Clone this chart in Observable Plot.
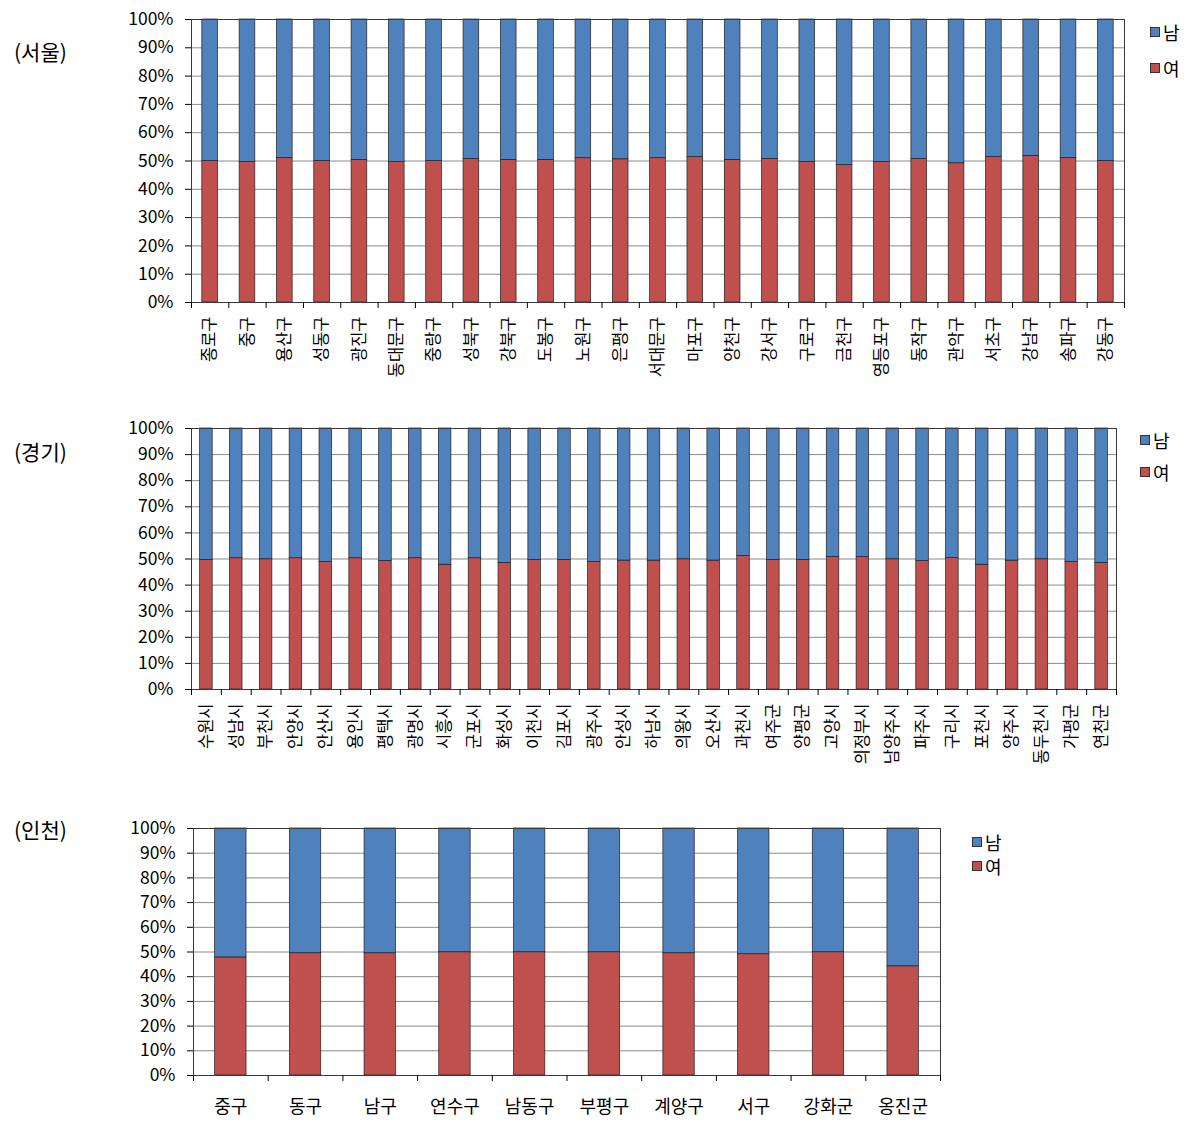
<!DOCTYPE html>
<html><head><meta charset="utf-8">
<script src="https://cdn.jsdelivr.net/npm/d3@7"></script>
<script src="https://cdn.jsdelivr.net/npm/@observablehq/plot@0.6"></script>
<style>
body{margin:0;background:#fff;font-family:"Noto Sans CJK KR","Noto Sans",sans-serif;}
#root{position:relative;width:1195px;height:1126px;overflow:hidden;background:#fff;}
.abs{position:absolute;}
.title{font-size:21px;line-height:24px;color:#000;white-space:nowrap;}
.leg{font-size:18px;line-height:20px;color:#000;display:flex;align-items:center;white-space:nowrap;}
.sw{width:10px;height:10px;border:1px solid #333;margin-right:3px;box-sizing:border-box;}
</style></head>
<body><div id="root"></div>
<script>
const yTicks = [0,10,20,30,40,50,60,70,80,90,100];
const sexes = ["남","여"];
const sexColors = ["#4F81BD","#C0504D"];

const seoulCats = ["종로구","중구","용산구","성동구","광진구","동대문구","중랑구","성북구","강북구","도봉구","노원구","은평구","서대문구","마포구","양천구","강서구","구로구","금천구","영등포구","동작구","관악구","서초구","강남구","송파구","강동구"];
const seoulFemale = [50.0,49.6,51.0,50.0,50.4,49.6,50.0,50.7,50.4,50.4,51.0,50.6,51.0,51.4,50.4,50.7,49.6,48.6,49.6,50.7,49.2,51.4,51.8,51.0,50.0];
const seoulMale   = [50.0,50.4,49.0,50.0,49.6,50.4,50.0,49.3,49.6,49.6,49.0,49.4,49.0,48.6,49.6,49.3,50.4,51.4,50.4,49.3,50.8,48.6,48.2,49.0,50.0];

const gyeonggiCats = ["수원시","성남시","부천시","안양시","안산시","용인시","평택시","광명시","시흥시","군포시","화성시","이천시","김포시","광주시","안성시","하남시","의왕시","오산시","과천시","여주군","양평군","고양시","의정부시","남양주시","파주시","구리시","포천시","양주시","동두천시","가평군","연천군"];
const gyeonggiFemale = [49.6,50.3,49.9,50.3,48.8,50.3,49.2,50.3,47.8,50.3,48.5,49.6,49.6,48.8,49.4,49.4,49.9,49.4,51.2,49.6,49.6,50.8,50.8,49.9,49.2,50.4,47.8,49.4,49.9,48.8,48.5];
const gyeonggiMale   = [50.4,49.7,50.1,49.7,51.2,49.7,50.8,49.7,52.2,49.7,51.5,50.4,50.4,51.2,50.6,50.6,50.1,50.6,48.8,50.4,50.4,49.2,49.2,50.1,50.8,49.6,52.2,50.6,50.1,51.2,51.5];

const incheonCats = ["중구","동구","남구","연수구","남동구","부평구","계양구","서구","강화군","옹진군"];
const incheonFemale = [47.8,49.5,49.5,49.9,49.9,49.9,49.5,49.1,49.9,44.2];
const incheonMale   = [52.2,50.5,50.5,50.1,50.1,50.1,50.5,50.9,50.1,55.8];

const root = document.getElementById("root");

function makePanel(cfg) {
  const {cats, female, male, top, width, height, mt, mb, ml, mr, rotate, xPad, xFont, title, titleTop, legX, legY} = cfg;
  const rows = cats.flatMap((c, i) => [
    {cat: c, sex: "여", v: female[i]},
    {cat: c, sex: "남", v: male[i]}
  ]);
  const step = (width - ml - mr) / cats.length;
  const chart = Plot.plot({
    width, height,
    marginTop: mt, marginBottom: mb, marginLeft: ml, marginRight: mr,
    style: {fontFamily: '"Noto Sans CJK KR", sans-serif', fontSize: "17px", color: "#000", background: "transparent", overflow: "visible"},
    x: {domain: cats, paddingInner: 0.58, paddingOuter: 0.29, round: false, axis: null, label: null},
    y: {domain: [0, 100], axis: null, label: null},
    color: {domain: sexes, range: sexColors},
    marks: [
      Plot.ruleY(yTicks, {y: d => d, stroke: "#8a8a8a", strokeWidth: 1}),
      Plot.barY(rows, Plot.stackY({x: "cat", y: "v", fill: "sex", stroke: "#1e1e1e", strokeWidth: 0.7})),
      Plot.frame({stroke: "#3a3a3a", strokeWidth: 1}),
      Plot.axisY({ticks: yTicks, tickFormat: d => d + "%", tickSize: 6, tickPadding: 12, fontSize: 17.5, label: null, stroke: "#000"}),
      Plot.axisX({tickSize: 0, tickRotate: rotate, tickPadding: xPad, fontSize: xFont, label: null}),
      Plot.ruleX(cats, {x: d => d, y1: 0, y2: 0, insetBottom: -6, dx: -step / 2, stroke: "#000"}),
      Plot.ruleX([cats[cats.length - 1]], {x: d => d, y1: 0, y2: 0, insetBottom: -6, dx: step / 2, stroke: "#000"})
    ]
  });
  chart.style.position = "absolute";
  chart.style.left = "0px";
  chart.style.top = top + "px";
  root.appendChild(chart);

  const t = document.createElement("div");
  t.className = "abs title";
  t.textContent = title;
  t.style.left = "14px";
  t.style.top = titleTop + "px";
  root.appendChild(t);

  sexes.forEach((s, i) => {
    const item = document.createElement("div");
    item.className = "abs leg";
    item.style.left = legX + "px";
    item.style.top = (legY[i] - 10) + "px";
    const sw = document.createElement("div");
    sw.className = "sw";
    sw.style.background = sexColors[i];
    const tx = document.createElement("span");
    tx.textContent = s;
    item.appendChild(sw);
    item.appendChild(tx);
    root.appendChild(item);
  });
}

makePanel({cats: seoulCats, female: seoulFemale, male: seoulMale, top: 0, width: 1140, height: 385,
  mt: 19, mb: 83, ml: 191, mr: 16, rotate: -90, xPad: 14, xFont: 16.5, title: "(서울)", titleTop: 39,
  legX: 1150, legY: [32, 68]});
makePanel({cats: gyeonggiCats, female: gyeonggiFemale, male: gyeonggiMale, top: 410, width: 1130, height: 370,
  mt: 18, mb: 91, ml: 191, mr: 14, rotate: -90, xPad: 14, xFont: 16.5, title: "(경기)", titleTop: 439,
  legX: 1140, legY: [440, 472]});
makePanel({cats: incheonCats, female: incheonFemale, male: incheonMale, top: 800, width: 960, height: 326,
  mt: 28, mb: 51, ml: 193, mr: 20, rotate: 0, xPad: 25, xFont: 18, title: "(인천)", titleTop: 817,
  legX: 972, legY: [842, 866]});
</script></body></html>
